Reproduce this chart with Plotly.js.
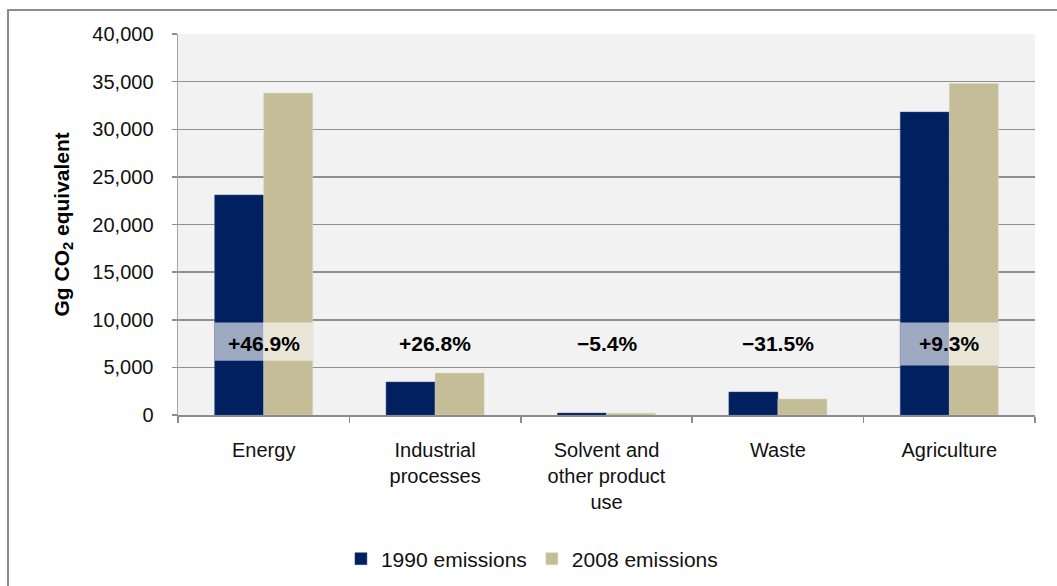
<!DOCTYPE html>
<html>
<head>
<meta charset="utf-8">
<script src="https://cdn.plot.ly/plotly-3.0.1.min.js"></script>
<style>
  html, body { margin: 0; padding: 0; background: #fff; overflow: hidden; }
  #wrap { position: relative; width: 1057px; height: 586px; }
  #chart { width: 1057px; height: 586px; }
  #frame { position: absolute; left: 7px; top: 9px; width: 1200px; height: 800px;
           border-left: 2px solid #8c8c8c; border-top: 2px solid #8c8c8c; pointer-events: none; }
</style>
</head>
<body>
<div id="wrap">
  <div id="chart"></div>
  <div id="frame"></div>
</div>
<script>
// ---- data ----
const categories = ["Energy", "Industrial<br>processes", "Solvent and<br>other product<br>use", "Waste", "Agriculture"];
const emissions1990 = [23100, 3460, 200, 2410, 31800];
const emissions2008 = [33800, 4400, 190, 1680, 34800];
const changeLabels = ["+46.9%", "+26.8%", "\u22125.4%", "\u221231.5%", "+9.3%"];
const seriesNames = ["1990 emissions", "2008 emissions"];

const FONT = '"Liberation Sans", Arial, sans-serif';
const NAVY = '#00205f';
const TAN = '#c4bd97';

const traces = [
  { type: 'bar', name: seriesNames[0], x: categories, y: emissions1990,
    marker: { color: NAVY, line: { color: '#33487f', width: 0.5 } } },
  { type: 'bar', name: seriesNames[1], x: categories, y: emissions2008,
    marker: { color: TAN, line: { color: '#dcd7c0', width: 0.5 } } }
];

// highlight boxes behind the labels on the tall bars (Energy, Agriculture)
const boxes = [
  { i: 0, y0: 5700, y1: 9700 },
  { i: 4, y0: 5200, y1: 9700 }
];
const halfPair = 0.286;
const shapes = boxes.map(b => ({
  type: 'rect', xref: 'x', yref: 'y', layer: 'above',
  x0: b.i - halfPair, x1: b.i + halfPair, y0: b.y0, y1: b.y1,
  fillcolor: 'rgba(255,255,255,0.62)', line: { width: 0 }
}));

const annotations = changeLabels.map((t, i) => ({
  x: i, y: 7500, xref: 'x', yref: 'y', text: '<b>' + t + '</b>', showarrow: false,
  font: { family: FONT, size: 21, color: '#000' }
}));
annotations.push({
  xref: 'paper', yref: 'paper', x: (62 - 178) / 857, y: 0.5, textangle: -90,
  text: '<b>Gg CO<sub>2</sub> equivalent</b>', showarrow: false,
  xanchor: 'center', yanchor: 'middle',
  font: { family: FONT, size: 21, color: '#000' }
});

const layout = {
  width: 1057, height: 586,
  margin: { l: 178, r: 22, t: 34, b: 171, autoexpand: false },
  paper_bgcolor: '#ffffff', plot_bgcolor: '#f2f2f2',
  font: { family: FONT, size: 20, color: '#111' },
  barmode: 'group', bargap: 0.428, bargroupgap: 0,
  showlegend: true,
  legend: { orientation: 'h', x: 0.413, xanchor: 'center', y: -0.378, yanchor: 'middle',
            font: { family: FONT, size: 21, color: '#111' }, itemwidth: 30, tracegroupgap: 0 },
  xaxis: {
    type: 'category', tickson: 'boundaries', ticks: 'outside', ticklen: 6,
    tickcolor: '#8c8c8c', tickwidth: 1.5, automargin: false,
    showline: true, linecolor: '#8c8c8c', linewidth: 2,
    showgrid: false, ticklabelstandoff: 16,
    tickfont: { family: FONT, size: 20, color: '#111' }
  },
  yaxis: {
    range: [0, 40000], dtick: 5000, tick0: 0, tickformat: ',',
    ticks: 'outside', ticklen: 5, tickcolor: '#8c8c8c', tickwidth: 1.5, automargin: false,
    showline: true, linecolor: '#a6a6a6', linewidth: 1.5,
    showgrid: true, gridcolor: '#8f8f8f', gridwidth: 1.5,
    zeroline: false, ticklabelstandoff: 14,
    tickfont: { family: FONT, size: 20, color: '#111' }
  },
  shapes: shapes,
  annotations: annotations
};

Plotly.newPlot('chart', traces, layout, { displayModeBar: false, staticPlot: true });
</script>
</body>
</html>
